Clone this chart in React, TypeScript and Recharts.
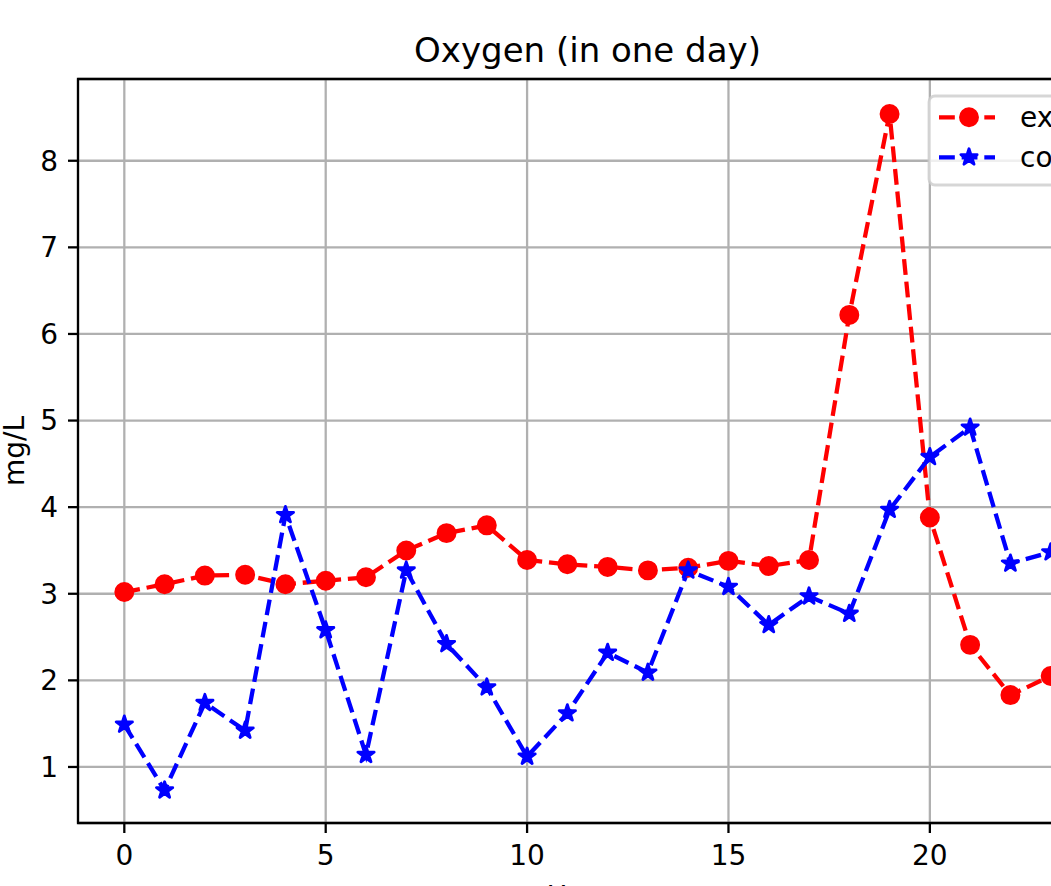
import React from "react";
import {
  CartesianGrid,
  Label,
  Legend,
  Line,
  LineChart,
  ReferenceArea,
  XAxis,
  YAxis,
} from "recharts";

// hourly dissolved oxygen readings, mg/L
const hours = [0, 1, 2, 3, 4, 5, 6, 7, 8, 9, 10, 11, 12, 13, 14, 15, 16, 17, 18, 19, 20, 21, 22, 23];
const experiment = [
  3.02, 3.11, 3.21, 3.22, 3.11, 3.15, 3.19, 3.5, 3.7, 3.79, 3.39, 3.34,
  3.31, 3.27, 3.3, 3.38, 3.32, 3.39, 6.22, 8.54, 3.88, 2.41, 1.83, 2.05,
];
const control = [
  1.49, 0.73, 1.74, 1.42, 3.91, 2.58, 1.14, 3.27, 2.42, 1.92, 1.12, 1.62,
  2.32, 2.09, 3.27, 3.08, 2.64, 2.97, 2.77, 3.97, 4.58, 4.92, 3.35, 3.48,
];
const xTicks = [0, 5, 10, 15, 20];
const yTicks = [1, 2, 3, 4, 5, 6, 7, 8];
const xDomain: [number, number] = [-1.15, 24.15];
const yDomain: [number, number] = [0.353, 8.944];

const data = hours.map((h, i) => ({ hour: h, experiment: experiment[i], control: control[i] }));

const FONT = "'DejaVu Sans', 'Liberation Sans', sans-serif";
const PT = 2.85; // px per point at the figure's dpi
const LINE_W = 1.5 * PT;
const DASH = `${3.7 * 1.5 * PT} ${1.6 * 1.5 * PT}`;
const MARKER_R = 3 * PT;
const EDGE_W = 1 * PT;

const starPath = (cx: number, cy: number, R: number) => {
  const r = R * 0.381966;
  const pts: string[] = [];
  for (let i = 0; i < 10; i++) {
    const a = (-90 + i * 36) * (Math.PI / 180);
    const rad = i % 2 === 0 ? R : r;
    pts.push(`${(cx + rad * Math.cos(a)).toFixed(2)},${(cy + rad * Math.sin(a)).toFixed(2)}`);
  }
  return `M${pts.join("L")}Z`;
};

const CircleMark = ({ cx, cy, color }: { cx: number; cy: number; color: string }) => (
  <circle cx={cx} cy={cy} r={MARKER_R} fill={color} stroke={color} strokeWidth={EDGE_W} />
);

const StarMark = ({ cx, cy, color }: { cx: number; cy: number; color: string }) => (
  <path d={starPath(cx, cy, MARKER_R)} fill={color} stroke={color} strokeWidth={EDGE_W} strokeLinejoin="round" />
);

const series = [
  { key: "experiment", name: "experiment", color: "#ff0000", Mark: CircleMark },
  { key: "control", name: "control", color: "#0000ff", Mark: StarMark },
];

const LegendBox = () => (
  <svg width={300} height={92} style={{ display: "block", overflow: "visible" }}>
    <rect x={1} y={1} width={290} height={89} rx={6} fill="rgba(255,255,255,0.8)" stroke="rgba(204,204,204,0.8)" strokeWidth={PT} />
    {series.map((s, i) => {
      const y = 22.3 + i * 40;
      const { Mark } = s;
      return (
        <g key={s.key}>
          <line x1={11} x2={67} y1={y} y2={y} stroke={s.color} strokeWidth={LINE_W} strokeDasharray={DASH} />
          <Mark cx={41} cy={y} color={s.color} />
          <text x={92} y={y + 9.7} fontSize={28} fontFamily={FONT} fill="#000">
            {s.name}
          </text>
        </g>
      );
    })}
  </svg>
);

export default function App() {
  return (
    <div
      style={{
        position: "fixed",
        left: 0,
        top: 0,
        width: 1051,
        height: 886,
        overflow: "hidden",
        background: "#fff",
        fontFamily: FONT,
      }}
    >
      <div
        style={{
          position: "absolute",
          left: 0,
          top: 33,
          width: 1175,
          textAlign: "center",
          fontSize: 34,
          lineHeight: "34px",
          color: "#000",
          zIndex: 2,
        }}
      >
        Oxygen (in one day)
      </div>
      <LineChart
        width={1200}
        height={960}
        data={data}
        margin={{ top: 79, right: 103, left: 18, bottom: 77 }}
        style={{ fontFamily: FONT }}
      >
        <CartesianGrid stroke="#b0b0b0" strokeWidth={0.8 * PT} />
        <XAxis
          dataKey="hour"
          type="number"
          domain={xDomain}
          ticks={xTicks}
          allowDataOverflow
          height={60}
          axisLine={false}
          tickSize={10}
          tickMargin={12}
          tickLine={{ stroke: "#000", strokeWidth: 0.8 * PT }}
          tick={{ fill: "#000", fontSize: 28, fontFamily: FONT }}
        >
          <Label value="Hours" position="bottom" offset={3.5} fill="#000" fontSize={28} fontFamily={FONT} />
        </XAxis>
        <YAxis
          type="number"
          domain={yDomain}
          ticks={yTicks}
          allowDataOverflow
          width={60}
          axisLine={false}
          tickSize={10}
          tickMargin={10}
          tickLine={{ stroke: "#000", strokeWidth: 0.8 * PT }}
          tick={{ fill: "#000", fontSize: 28, fontFamily: FONT }}
        >
          <Label
            content={() => (
              <text
                x={24}
                y={451}
                transform="rotate(-90, 24, 451)"
                textAnchor="middle"
                fontSize={28}
                fontFamily={FONT}
                fill="#000"
              >
                mg/L
              </text>
            )}
          />
        </YAxis>
        <ReferenceArea
          x1={xDomain[0]}
          x2={xDomain[1]}
          y1={yDomain[0]}
          y2={yDomain[1]}
          fill="none"
          stroke="#000"
          strokeWidth={0.8 * PT}
          ifOverflow="visible"
        />
        {series.map((s) => (
          <Line
            key={s.key}
            dataKey={s.key}
            name={s.name}
            type="linear"
            stroke={s.color}
            strokeWidth={LINE_W}
            strokeDasharray={DASH}
            isAnimationActive={false}
            activeDot={false}
            dot={(p: any) => <s.Mark key={`${s.key}-${p.index}`} cx={p.cx} cy={p.cy} color={s.color} />}
          />
        ))}
        <Legend
          layout="vertical"
          align="center"
          verticalAlign="middle"
          content={() => <LegendBox />}
          wrapperStyle={{ left: 928, top: 95, right: "auto", bottom: "auto", width: 300, height: 92 }}
        />
      </LineChart>
    </div>
  );
}
